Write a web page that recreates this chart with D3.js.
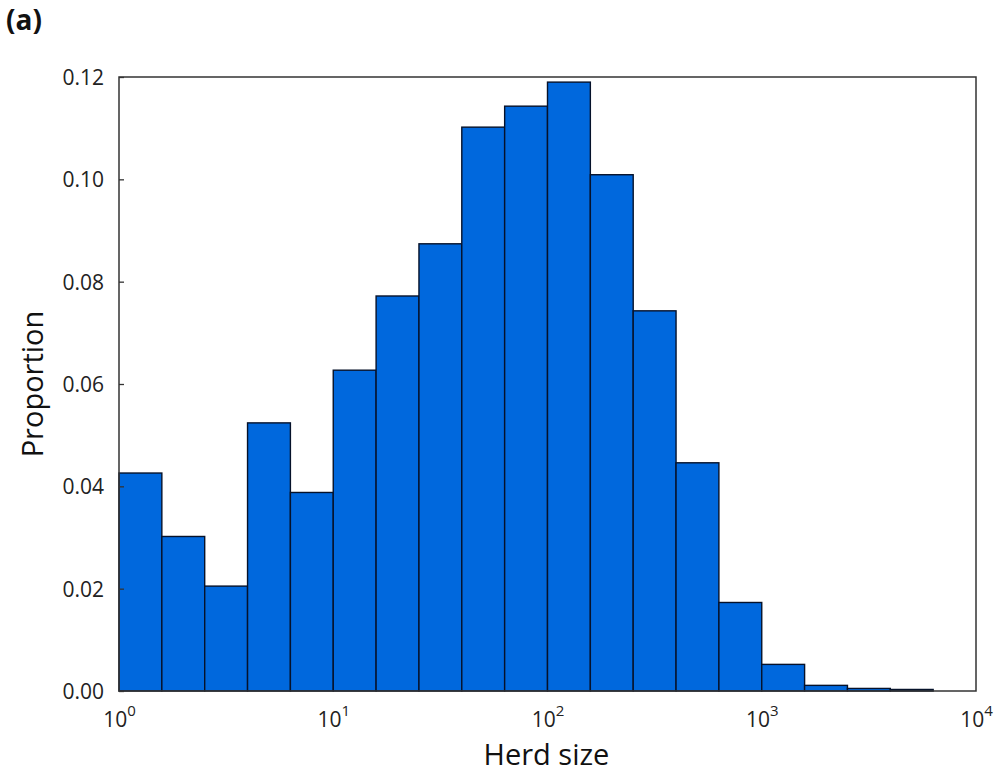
<!DOCTYPE html>
<html>
<head>
<meta charset="utf-8">
<script src="https://cdn.jsdelivr.net/npm/d3@7"></script>
<style>
  body { margin: 0; background: #fff; }
  svg { display: block; font-family: "Open Sans", "DejaVu Sans", sans-serif; }
</style>
</head>
<body>
<div id="chart"></div>
<script>
// histogram of herd sizes, 20 log-spaced bins from 10^0 to 10^4
const binExponents = d3.range(0, 4.0001, 0.2).map(d => +d.toFixed(1));
const proportions = [
  0.0426, 0.0302, 0.0205, 0.0524, 0.0388,
  0.0627, 0.0772, 0.0874, 0.1102, 0.1143,
  0.1190, 0.1009, 0.0743, 0.0446, 0.0173,
  0.0052, 0.0011, 0.0005, 0.0003, 0.0000
];
const yTicks = [0, 0.02, 0.04, 0.06, 0.08, 0.10, 0.12];
const xTicks = [1, 10, 100, 1000, 10000];

const W = 997, H = 776;
const margin = { top: 77, right: 21, bottom: 85, left: 119 };
const width = W - margin.left - margin.right;
const height = H - margin.top - margin.bottom;

const svg = d3.select('#chart').append('svg')
  .attr('width', W)
  .attr('height', H);

const g = svg.append('g').attr('transform', `translate(${margin.left},${margin.top})`);

const x = d3.scaleLog().domain([1, 10000]).range([0, width]);
const y = d3.scaleLinear().domain([0, 0.12]).range([height, 0]);

const bins = proportions.map((p, i) => ({
  x0: Math.pow(10, binExponents[i]),
  x1: Math.pow(10, binExponents[i + 1]),
  value: p
}));

// bars
g.append('g').selectAll('rect')
  .data(bins.filter(d => d.value > 0))
  .join('rect')
  .attr('x', d => x(d.x0))
  .attr('width', d => x(d.x1) - x(d.x0))
  .attr('y', d => y(d.value))
  .attr('height', d => y(0) - y(d.value))
  .attr('fill', '#0068dd')
  .attr('stroke', '#06122a')
  .attr('stroke-width', 1.4);

// frame
g.append('rect')
  .attr('width', width)
  .attr('height', height)
  .attr('fill', 'none')
  .attr('stroke', '#333')
  .attr('stroke-width', 1.5);

// y axis (inward ticks)
const yAxis = g.append('g')
  .call(d3.axisRight(y).tickValues(yTicks).tickSize(5).tickFormat(d3.format('.2f')));
yAxis.select('.domain').remove();
yAxis.selectAll('.tick line').attr('stroke', '#333').attr('stroke-width', 1.3);
yAxis.selectAll('.tick text')
  .attr('x', -15)
  .attr('dy', '0.35em')
  .attr('text-anchor', 'end')
  .attr('fill', '#222')
  .attr('font-size', 21)
  .attr('font-family', '"Open Sans", sans-serif');

// x axis labels as 10^n
const xAxis = g.append('g')
  .attr('transform', `translate(0,${height})`)
  .call(d3.axisTop(x).tickValues(xTicks).tickSize(0).tickFormat(''));
xAxis.select('.domain').remove();
xAxis.selectAll('.tick text').remove();
xAxis.selectAll('.tick').each(function(d) {
  const t = d3.select(this).append('text')
    .attr('y', 36)
    .attr('text-anchor', 'middle')
    .attr('fill', '#222')
    .attr('font-size', 21)
    .attr('font-family', '"Open Sans", sans-serif');
  t.append('tspan').text('10');
  t.append('tspan')
    .attr('font-size', 15)
    .attr('dy', -11)
    .text(Math.round(Math.log10(d)));
});

// axis titles
svg.append('text')
  .attr('x', margin.left + width / 2 - 1)
  .attr('y', 765)
  .attr('text-anchor', 'middle')
  .attr('font-size', 29)
  .attr('fill', '#111')
  .text('Herd size');

svg.append('text')
  .attr('transform', `translate(43,${margin.top + height / 2}) rotate(-90)`)
  .attr('text-anchor', 'middle')
  .attr('font-size', 29)
  .attr('fill', '#111')
  .text('Proportion');

// panel label
svg.append('text')
  .attr('x', 6)
  .attr('y', 30)
  .attr('font-size', 28)
  .attr('font-weight', 'bold')
  .attr('fill', '#111')
  .text('(a)');
</script>
</body>
</html>
